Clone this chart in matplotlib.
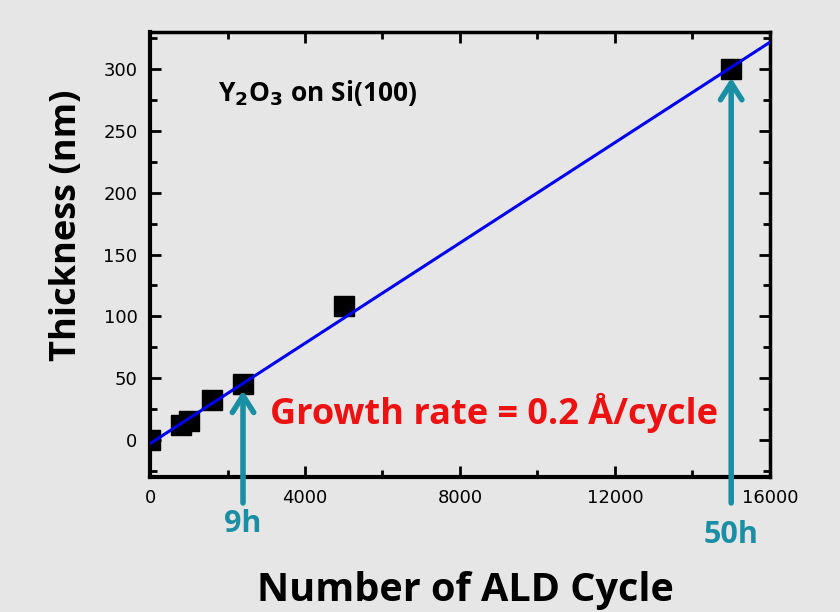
import numpy as np
import matplotlib
matplotlib.use("Agg")
import matplotlib.pyplot as plt
from matplotlib.ticker import MultipleLocator

# ALD growth of Y2O3 on Si(100): film thickness vs number of cycles
cycles = [0, 800, 1000, 1600, 2400, 5000, 15000]
thickness = [0, 12, 15, 32, 45, 108, 300]

# linear fit drawn across the full axis range
fit_slope = 0.0203      # nm per cycle
fit_icept = -3.0        # nm
fit_x = [0, 16000]

# deposition-time markers
mark_cycles = [2400, 15000]
mark_tips = [40, 293]
mark_labels = ["9h", "50h"]

bg = "#e6e6e6"
teal = "#1a8fa3"
font = "Open Sans"

fig = plt.figure(figsize=(8.4, 6.12), dpi=100, facecolor=bg)
ax = fig.add_axes([0.1786, 0.2206, 0.738, 0.727], facecolor=bg)

fy = [fit_slope * x + fit_icept for x in fit_x]
ax.plot(fit_x, fy, color="#0000ee", lw=2.2, zorder=3)
ax.plot(cycles, thickness, "s", color="black", ms=14, zorder=2)

ax.set_xlim(0, 16000)
ax.set_ylim(-30, 330)
ax.xaxis.set_major_locator(MultipleLocator(4000))
ax.xaxis.set_minor_locator(MultipleLocator(2000))
ax.yaxis.set_major_locator(MultipleLocator(50))
ax.yaxis.set_minor_locator(MultipleLocator(25))
ax.tick_params(which="both", direction="in", top=True, right=True,
               labelsize=13, pad=9, width=2)
ax.tick_params(which="major", length=8)
ax.tick_params(which="minor", length=5)
for s in ["left", "bottom"]:
    ax.spines[s].set_linewidth(3)
for s in ["top", "right"]:
    ax.spines[s].set_linewidth(2.5)

ax.set_ylabel("Thickness (nm)", fontsize=26, fontweight="bold", family=font)
ax.yaxis.set_label_coords(-0.105, 0.566)
ax.set_xlabel("Number of ALD Cycle", fontsize=28.5, fontweight="bold",
              family=font, va="center")
ax.xaxis.set_label_coords(0.508, -0.254)

ax.text(1755, 281, r"Y$_\mathbf{2}$O$_\mathbf{3}$ on Si(100)", fontsize=19,
        fontweight="bold", family=font, va="center")
ax.text(3100, 22, "Growth rate = 0.2 Å/cycle", fontsize=26, fontweight="bold",
        color="#ee1111", family=font, va="center")

# arrows from below the axis up to the data points
for xc, tip, lab, ly in zip(mark_cycles, mark_tips, mark_labels, [-68, -77]):
    ax.annotate("", xy=(xc, tip), xytext=(xc, -51),
                arrowprops=dict(arrowstyle="->,head_width=0.35,head_length=0.55",
                                color=teal, lw=4, mutation_scale=22,
                                shrinkA=0, shrinkB=0),
                annotation_clip=False, zorder=4)
    ax.text(xc, ly, lab, fontsize=22, fontweight="bold", color=teal,
            ha="center", va="center", family=font)

fig.savefig("out.png", dpi=100, facecolor=bg)
